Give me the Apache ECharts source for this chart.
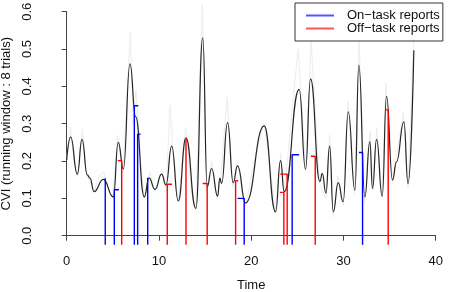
<!DOCTYPE html>
<html>
<head>
<meta charset="utf-8">
<script src="https://cdn.jsdelivr.net/npm/echarts@6/dist/echarts.min.js"></script>
<style>
html,body{margin:0;padding:0;background:#fff;}
#chart{width:454px;height:292px;}
</style>
</head>
<body>
<div id="chart"></div>
<script>
// Smoothed CVI curve (time, value)
const smoothTimes = [0, 0.43, 1.15, 1.66, 2.23, 2.52, 2.96, 3.97, 5.05, 5.59, 6.14, 6.86, 7.47, 8.41, 8.92, 9.57, 10.29, 10.76, 11.38, 12.09, 12.93, 14.0, 14.75, 15.23, 15.71, 16.36, 16.6, 16.79, 17.44, 18.05, 18.52, 19.39, 21.41, 22.64, 23.18, 23.58, 25.2, 25.89, 26.43, 27.45, 27.7, 28.1, 28.5, 28.9, 29.43, 29.97, 30.52, 31.24, 31.67, 32.32, 32.86, 33.15, 33.59, 34.2, 34.67, 35.32, 35.75, 36.55, 37.0, 37.63];
const smoothValues = [0.203, 0.264, 0.165, 0.258, 0.163, 0.154, 0.118, 0.151, 0.104, 0.250, 0.179, 0.460, 0.319, 0.104, 0.155, 0.124, 0.165, 0.136, 0.240, 0.093, 0.262, 0.073, 0.530, 0.131, 0.180, 0.106, 0.154, 0.140, 0.303, 0.142, 0.187, 0.088, 0.294, 0.064, 0.201, 0.118, 0.392, 0.178, 0.420, 0.145, 0.167, 0.114, 0.240, 0.064, 0.142, 0.091, 0.332, 0.122, 0.457, 0.104, 0.252, 0.127, 0.258, 0.106, 0.373, 0.149, 0.198, 0.305, 0.140, 0.497];

// Raw (unsmoothed) CVI, faint grey
const rawTimes = [0, 0.4, 0.8, 1.2, 1.7, 2.1, 2.6, 3.0, 3.5, 4.0, 4.5, 5.0, 5.5, 6.1, 6.9, 7.2, 7.5, 8.0, 8.4, 9.0, 9.6, 10.3, 10.8, 11.2, 11.6, 12.1, 12.9, 13.5, 14.0, 14.7, 15.2, 15.7, 16.3, 16.7, 17.4, 18.0, 18.5, 19.4, 20.5, 21.4, 22.0, 22.6, 23.2, 23.6, 24.4, 25.1, 25.9, 26.5, 27.4, 28.1, 28.5, 28.9, 29.4, 30.0, 30.5, 31.2, 31.7, 32.3, 32.9, 33.2, 33.6, 34.2, 34.6, 35.3, 35.8, 36.5, 37.0, 37.6];
const rawValues = [0.21, 0.29, 0.2, 0.16, 0.285, 0.17, 0.14, 0.12, 0.16, 0.17, 0.13, 0.1, 0.27, 0.17, 0.546, 0.3, 0.39, 0.2, 0.1, 0.17, 0.12, 0.18, 0.13, 0.35, 0.2, 0.09, 0.29, 0.12, 0.07, 0.62, 0.12, 0.2, 0.1, 0.16, 0.372, 0.13, 0.2, 0.08, 0.22, 0.3, 0.2, 0.06, 0.22, 0.11, 0.33, 0.5, 0.17, 0.52, 0.14, 0.1, 0.27, 0.05, 0.16, 0.08, 0.36, 0.11, 0.52, 0.09, 0.28, 0.12, 0.29, 0.1, 0.41, 0.14, 0.22, 0.33, 0.13, 0.52];

// On-task reports
const onTimes = [4.18, 5.16, 7.33, 7.69, 8.78, 19.24, 24.44, 32.07];
const onValues = [0.154, 0.123, 0.348, 0.272, 0.155, 0.100, 0.217, 0.223];
const onDashTo = [4.18, 5.66, 7.76, 8.02, 8.78, 18.52, 25.20, 31.67];

// Off-task reports
const offTimes = [5.96, 10.90, 12.93, 15.23, 18.31, 23.54, 23.90, 26.94, 34.85];
const offValues = [0.201, 0.138, 0.262, 0.140, 0.147, 0.116, 0.165, 0.213, 0.337];
const offDashTo = [5.53, 11.41, 12.93, 14.73, 18.59, 23.11, 23.14, 26.47, 34.60];

// Axis ticks
const xTicks = [0, 10, 20, 30, 40];
const yTicks = [0.0, 0.1, 0.2, 0.3, 0.4, 0.5, 0.6];

const ON_NAME = 'On\u2212task reports';
const OFF_NAME = 'Off\u2212task reports';
const FONT = '"Liberation Sans", Arial, Helvetica, sans-serif';

const yMin = yTicks[0], yMax = yTicks[yTicks.length - 1];
const yBase = yMin - 0.04 * (yMax - yMin); // R-style plot-region bottom

function reportSeries(name, color, times, values, dashTo) {
  return times.map((t, i) => ({
    name: name,
    type: 'line',
    symbol: 'none',
    showSymbol: false,
    clip: false,
    silent: true,
    animation: false,
    z: 3,
    lineStyle: { color: color, width: 1.4 },
    itemStyle: { color: color },
    data: [[t, yBase], [t, values[i]], [dashTo[i], values[i]]]
  }));
}

const chart = echarts.init(document.getElementById('chart'), null, { renderer: 'canvas' });
chart.setOption({
  animation: false,
  backgroundColor: '#ffffff',
  textStyle: { fontFamily: FONT },
  grid: { left: 66.7, right: 18.3, top: 11.7, bottom: 56.3, containLabel: false, outerBoundsMode: 'none' },
  legend: {
    data: [
      { name: ON_NAME, icon: 'rect', itemStyle: { color: '#5555ff' } },
      { name: OFF_NAME, icon: 'rect', itemStyle: { color: '#ff5555' } }
    ],
    orient: 'vertical',
    left: 295,
    top: 3,
    padding: [6, 3, 6, 11],
    itemWidth: 28,
    itemHeight: 2,
    itemGap: 0,
    borderColor: '#333',
    borderWidth: 1,
    borderRadius: 0,
    textStyle: { fontFamily: FONT, fontSize: 13, lineHeight: 12, color: '#111', padding: [0, 0, 0, 8] }
  },
  xAxis: {
    type: 'value',
    min: xTicks[0],
    max: xTicks[xTicks.length - 1],
    interval: 10,
    offset: 8.6,
    name: 'Time',
    nameLocation: 'middle',
    nameGap: 35,
    nameTextStyle: { fontFamily: FONT, fontSize: 13, color: '#111' },
    axisLine: { show: true, lineStyle: { color: '#444', width: 1 } },
    axisTick: { show: true, length: 5, lineStyle: { color: '#444' } },
    axisLabel: { fontFamily: FONT, fontSize: 13, color: '#111', margin: 11 },
    splitLine: { show: false }
  },
  yAxis: {
    type: 'value',
    min: yMin,
    max: yMax,
    interval: 0.1,
    offset: 16,
    name: 'CVI (running window : 8 trials)',
    nameLocation: 'middle',
    nameGap: 34,
    nameTextStyle: { fontFamily: FONT, fontSize: 13, color: '#111' },
    axisLine: { show: true, lineStyle: { color: '#444', width: 1 } },
    axisTick: { show: true, length: 5, lineStyle: { color: '#444' } },
    axisLabel: { fontFamily: FONT, fontSize: 13, color: '#111', rotate: 90, margin: 17,
      formatter: v => v.toFixed(1) },
    splitLine: { show: false }
  },
  series: [
    {
      name: 'raw',
      type: 'line',
      symbol: 'none',
      clip: false,
      silent: true,
      z: 1,
      lineStyle: { color: '#ededed', width: 1 },
      data: rawTimes.map((t, i) => [t, rawValues[i]])
    },
    {
      name: 'CVI',
      type: 'line',
      symbol: 'none',
      clip: false,
      silent: true,
      smooth: 0.5,
      smoothMonotone: 'x',
      z: 2,
      lineStyle: { color: '#262626', width: 1.2 },
      data: smoothTimes.map((t, i) => [t, smoothValues[i]])
    },
    ...reportSeries(ON_NAME, '#0000ff', onTimes, onValues, onDashTo),
    ...reportSeries(OFF_NAME, '#ff0000', offTimes, offValues, offDashTo)
  ]
});
</script>
</body>
</html>
